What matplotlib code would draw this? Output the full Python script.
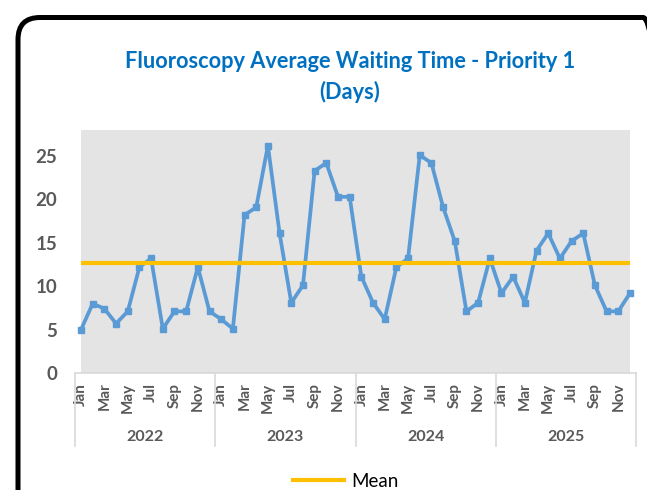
import matplotlib
matplotlib.use("Agg")
import matplotlib.pyplot as plt
import matplotlib.patches as mpatches
import matplotlib.transforms as mtransforms
from matplotlib.lines import Line2D


# Дані графіка
years = ["2022", "2023", "2024", "2025"]
months = ["Jan", "Feb", "Mar", "Apr", "May", "Jun",
          "Jul", "Aug", "Sep", "Oct", "Nov", "Dec"]
wait_2022 = [5.0, 8.0, 7.4, 5.7, 7.1, 12.2, 13.2, 5.1, 7.1, 7.1, 12.2, 7.1]
wait_2023 = [6.2, 5.1, 18.2, 19.1, 26.2, 16.1, 8.1, 10.1, 23.3, 24.2, 20.3, 20.3]
wait_2024 = [11.1, 8.1, 6.2, 12.2, 13.2, 25.1, 24.2, 19.1, 15.2, 7.1, 8.1, 13.2]
wait_2025 = [9.2, 11.1, 8.1, 14.1, 16.1, 13.2, 15.2, 16.1, 10.1, 7.1, 7.1, 9.2]
mean_value = 12.7

title_text = "Fluoroscopy Average Waiting Time - Priority 1"
subtitle_text = "(Days)"

values = wait_2022 + wait_2023 + wait_2024 + wait_2025
n = len(values)
x = list(range(n))
mean_series = [mean_value] * n

grey_text = "#595959"
font = "Lato"

fig = plt.figure(figsize=(6.47, 4.90), dpi=100)
ax = fig.add_axes([75.2 / 647, 117 / 490, 560.6 / 647, 243 / 490])
ax.set_facecolor("white")

# Сіра область графіка
ax.axvspan(0, n - 1, color="#E4E4E4", zorder=0, lw=0)

ax.plot(x, values, color="#5B9BD5", linewidth=2.7, marker="s",
        markersize=5, zorder=3)
ax.plot(x, mean_series, color="#FFC000", linewidth=3, zorder=4,
        solid_capstyle="butt")

ax.set_xlim(-0.5, n - 0.5)
ax.set_ylim(0, 28)
ax.set_yticks([0, 5, 10, 15, 20, 25])
ax.tick_params(axis="y", length=0, pad=13, labelcolor=grey_text)
for lbl in ax.get_yticklabels():
    lbl.set_fontfamily(font)
    lbl.set_fontweight("bold")
    lbl.set_fontsize(13.5)

ax.set_xticks(x[::2])
ax.set_xticklabels(months[::2] * len(years), rotation=90, fontsize=11,
                   fontweight="bold", color=grey_text, family=font)
ax.tick_params(axis="x", length=0, pad=7)

for side in ["top", "right", "left"]:
    ax.spines[side].set_visible(False)
ax.spines["bottom"].set_color("#D9D9D9")
ax.spines["bottom"].set_linewidth(1.2)

# Групування по роках
trans = mtransforms.blended_transform_factory(ax.transData, ax.transAxes)
for i in range(len(years) + 1):
    ax.plot([i * 12 - 0.5, i * 12 - 0.5], [0, -0.3], transform=trans,
            color="#D9D9D9", linewidth=1.2, clip_on=False)
for i, yr in enumerate(years):
    ax.text(i * 12 + 5.5, -0.263, yr, transform=trans, ha="center",
            va="center", fontsize=11.5, fontweight="bold", color=grey_text,
            family=font)

# Заголовок
fig.text(350 / 647, 1 - 62 / 490, title_text, ha="center", va="center",
         fontsize=15.7, fontweight="bold", color="#0070C0", family=font)
fig.text(350 / 647, 1 - 92 / 490, subtitle_text, ha="center", va="center",
         fontsize=15.7, fontweight="bold", color="#0070C0", family=font)

# Легенда
handle = Line2D([], [], color="#FFC000", linewidth=3)
fig.legend([handle], ["Mean"], loc="center", bbox_to_anchor=(346 / 647, 9 / 490),
           frameon=False, handlelength=2.7, handletextpad=0.4,
           prop={"family": font, "size": 13.5})

# Рамка з заокругленими кутами
frame = mpatches.FancyBboxPatch((18, -60), 647, 472.5 + 60,
                                boxstyle="round,pad=0,rounding_size=22",
                                transform=mtransforms.IdentityTransform(),
                                facecolor="none", edgecolor="black",
                                linewidth=3.6)
fig.add_artist(frame)

fig.savefig("out.png", dpi=100)
